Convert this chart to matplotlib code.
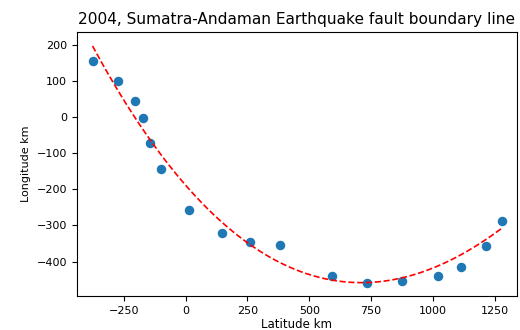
import numpy as np
import matplotlib
matplotlib.use("Agg")
import matplotlib.pyplot as plt

latitude_km = [-375, -272, -206, -173, -144, -99, 15, 147, 260, 380,
               593, 734, 876, 1020, 1113, 1216, 1278]
longitude_km = [155, 100, 44, -3, -72, -144, -258, -321, -346, -353,
                -439, -460, -453, -439, -414, -358, -288]

# fitted boundary line, sampled along the red dashed curve in the reference
curve_lat_km = [-377, -149, -29, 15, 136, 260, 604, 769, 1058, 1271]
curve_lon_km = [204, -71, -166, -208, -281, -342, -444, -462, -411, -305]

# smooth the sampled curve with a low order polynomial before drawing
coef = np.polyfit(curve_lat_km, curve_lon_km, 3)
fit_x = np.linspace(curve_lat_km[0], latitude_km[-1], 200)
fit_y = np.polyval(coef, fit_x)

fig = plt.figure(figsize=(5.2, 3.3), dpi=100)
ax = fig.add_axes([0.148, 0.103, 0.846, 0.800])
ax.scatter(latitude_km, longitude_km, s=34, color="tab:blue", zorder=2)
ax.plot(fit_x, fit_y, "r--", lw=1.2, zorder=3)

ax.set_xlim(-440, 1340)
ax.set_ylim(-495, 235)
ax.set_xticks([-250, 0, 250, 500, 750, 1000, 1250])
ax.set_yticks([200, 100, 0, -100, -200, -300, -400])
ax.tick_params(labelsize=8)
ax.set_title("2004, Sumatra-Andaman Earthquake fault boundary line", fontsize=11.1)
ax.set_xlabel("Latitude km", fontsize=8.5, labelpad=1.5)
ax.set_ylabel("Longitude km", fontsize=8)

fig.savefig("out.png", dpi=100)
